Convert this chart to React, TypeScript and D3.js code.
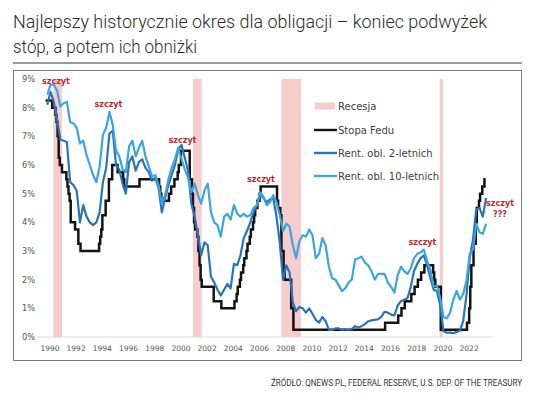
import React, { useEffect, useRef } from "react";
import * as d3 from "d3";

// tick labels
const xYears = d3.range(1990, 2024, 2);
const yPercents = d3.range(0, 10);

// quarterly averages, 1990 Q1 .. 2023 Q3
const rent2 = [
  8.1, 8.55, 8.2, 7.6, 6.9, 6.85, 6.8, 5.4, 5.3, 5.1, 4.0, 4.6, 4.2, 4.0, 3.9, 4.0,
  4.35, 5.4, 5.9, 7.1, 7.2, 6.0, 5.85, 5.35, 5.0, 6.1, 6.3, 5.8, 6.1, 6.2, 5.9, 5.75,
  5.45, 5.55, 5.2, 4.35, 4.85, 5.3, 5.65, 6.0, 6.55, 6.7, 6.25, 5.8, 4.65, 4.2, 3.55, 2.85,
  3.3, 3.2, 2.1, 1.9, 1.65, 1.45, 1.65, 1.85, 1.7, 2.55, 2.5, 2.85, 3.45, 3.7, 4.0, 4.35,
  4.6, 5.0, 4.85, 4.7, 4.8, 4.85, 4.2, 3.3, 2.0, 2.5, 2.25, 1.2, 0.9, 1.05, 1.0, 0.85,
  1.0, 0.8, 0.6, 0.5, 0.7, 0.55, 0.25, 0.25, 0.3, 0.3, 0.25, 0.27, 0.25, 0.28, 0.38, 0.32,
  0.38, 0.45, 0.55, 0.58, 0.6, 0.62, 0.7, 0.88, 0.85, 0.78, 0.75, 1.1, 1.25, 1.3, 1.35, 1.75,
  2.3, 2.55, 2.75, 2.85, 2.5, 2.05, 1.65, 1.6, 1.1, 0.2, 0.15, 0.15, 0.13, 0.18, 0.22, 0.55,
  1.45, 2.75, 3.4, 4.45, 4.5, 4.2, 4.85,
];

const rent10 = [
  8.45, 8.8, 8.8, 8.6, 8.05, 8.15, 8.2, 7.5, 7.45, 7.3, 6.75, 6.85, 6.35, 6.0, 5.65, 5.4,
  5.95, 7.05, 7.3, 7.85, 7.4, 6.5, 6.3, 5.85, 5.75, 6.65, 6.85, 6.3, 6.6, 6.85, 6.3, 5.95,
  5.6, 5.65, 5.3, 4.65, 4.95, 5.5, 5.9, 6.2, 6.6, 6.2, 5.85, 5.55, 5.05, 5.35, 4.95, 4.65,
  5.1, 5.35, 4.35, 4.0, 3.9, 3.5, 4.2, 4.3, 4.1, 4.6, 4.3, 4.2, 4.3, 4.2, 4.25, 4.5,
  4.6, 5.05, 4.9, 4.6, 4.7, 4.95, 4.7, 4.25, 3.7, 3.95, 3.85, 3.2, 2.75, 3.35, 3.55, 3.5,
  3.75, 3.55, 2.75, 2.9, 3.45, 3.2, 2.45, 2.05, 2.0, 1.8, 1.6, 1.7, 1.9, 2.0, 2.7, 2.75,
  2.8, 2.6, 2.5, 2.3, 2.0, 2.2, 2.2, 2.2, 1.9, 1.75, 1.55, 2.15, 2.45, 2.3, 2.2, 2.4,
  2.75, 2.9, 2.95, 3.05, 2.65, 2.35, 1.75, 1.8, 1.35, 0.7, 0.65, 0.85, 1.3, 1.6, 1.3, 1.5,
  1.95, 2.9, 3.05, 3.95, 3.65, 3.6, 3.95,
];

// fed funds target changes
const fedDates = [
  "1990-01", "1990-07", "1990-10", "1990-11", "1990-12", "1991-01", "1991-02", "1991-04",
  "1991-08", "1991-09", "1991-10", "1991-11", "1991-12", "1992-04", "1992-07", "1992-09",
  "1994-02", "1994-03", "1994-04", "1994-05", "1994-08", "1994-11", "1995-02", "1995-07",
  "1995-12", "1996-01", "1997-03", "1998-09", "1998-10", "1998-11", "1999-06", "1999-08",
  "1999-11", "2000-02", "2000-03", "2000-05", "2001-01", "2001-03", "2001-04", "2001-05",
  "2001-06", "2001-08", "2001-09", "2001-10", "2001-11", "2001-12", "2002-11", "2003-06",
  "2004-06", "2004-08", "2004-09", "2004-11", "2004-12", "2005-02", "2005-03", "2005-05",
  "2005-06", "2005-08", "2005-09", "2005-11", "2005-12", "2006-01", "2006-03", "2006-05",
  "2006-06", "2007-09", "2007-10", "2007-12", "2008-01", "2008-03", "2008-04", "2008-10",
  "2008-12", "2015-12", "2016-12", "2017-03", "2017-06", "2017-12", "2018-03", "2018-06",
  "2018-09", "2018-12", "2019-08", "2019-09", "2019-10", "2020-03", "2022-03", "2022-05",
  "2022-06", "2022-07", "2022-09", "2022-11", "2022-12", "2023-02", "2023-03", "2023-05",
  "2023-07", "2023-08",
];
const fedRates = [
  8.25, 8.0, 7.75, 7.5, 7.0, 6.25, 6.0, 5.75,
  5.5, 5.25, 5.0, 4.75, 4.0, 3.75, 3.25, 3.0,
  3.25, 3.5, 3.75, 4.25, 4.75, 5.5, 6.0, 5.75,
  5.5, 5.25, 5.5, 5.25, 5.0, 4.75, 5.0, 5.25,
  5.5, 5.75, 6.0, 6.5, 5.5, 5.0, 4.5, 4.0,
  3.75, 3.5, 3.0, 2.5, 2.0, 1.75, 1.25, 1.0,
  1.25, 1.5, 1.75, 2.0, 2.25, 2.5, 2.75, 3.0,
  3.25, 3.5, 3.75, 4.0, 4.25, 4.5, 4.75, 5.0,
  5.25, 4.75, 4.5, 4.25, 3.0, 2.25, 2.0, 1.0,
  0.25, 0.5, 0.75, 1.0, 1.25, 1.5, 1.75, 2.0,
  2.25, 2.5, 2.25, 2.0, 1.75, 0.25, 0.5, 1.0,
  1.75, 2.5, 3.25, 4.0, 4.5, 4.75, 5.0, 5.25,
  5.5, 5.5,
];

const recessionStart = ["1990-08", "2001-04", "2008-01", "2020-02"];
const recessionEnd = ["1991-03", "2001-11", "2009-06", "2020-04"];

// "szczyt" notes anchored in data units
const noteLabels = ["szczyt", "szczyt", "szczyt", "szczyt", "szczyt", "szczyt", "???"];
const noteYears = [1990.79, 1994.8, 2000.45, 2006.44, 2018.77, 2024.69, 2024.69];
const noteValues = [8.84, 8.02, 6.77, 5.41, 3.21, 4.57, 4.19];

const legendLabels = ["Recesja", "Stopa Fedu", "Rent. obl. 2-letnich", "Rent. obl. 10-letnich"];
const colors = { fed: "#141414", r2: "#2b73b9", r10: "#3aa6dd", rec: "#f6cccc" };

const ym = (s: string) => +s.slice(0, 4) + (+s.slice(5, 7) - 1) / 12;
const qt = (i: number) => 1990 + i / 4 + 0.125;

function Chart() {
  const ref = useRef<SVGSVGElement>(null);

  useEffect(() => {
    const svg = d3.select(ref.current);
    svg.selectAll("*").remove();

    const x = d3.scaleLinear().domain([1990, 2024]).range([45.6, 491]);
    const y = d3.scaleLinear().domain([0, 9]).range([337, 79]);

    // title
    const title = svg.append("g").attr("font-family", "Roboto, 'Open Sans', sans-serif")
      .attr("font-weight", 300).attr("font-size", 18).attr("fill", "#2b2b2b");
    title.append("text").attr("x", 13).attr("y", 28)
      .attr("textLength", 474).attr("lengthAdjust", "spacingAndGlyphs")
      .text("Najlepszy historycznie okres dla obligacji – koniec podwyżek");
    title.append("text").attr("x", 13).attr("y", 53)
      .attr("textLength", 184).attr("lengthAdjust", "spacingAndGlyphs")
      .text("stóp, a potem ich obniżki");

    svg.append("line").attr("x1", 13).attr("x2", 522).attr("y1", 63).attr("y2", 63)
      .attr("stroke", "#9b9b9b").attr("stroke-width", 2);
    svg.append("rect").attr("x", 13.5).attr("y", 70.5).attr("width", 508).attr("height", 290)
      .attr("fill", "#fff").attr("stroke", "#7a7a7a").attr("stroke-width", 1);

    // recession bands
    svg.append("g").selectAll("rect").data(recessionStart).join("rect")
      .attr("x", (d) => x(ym(d)))
      .attr("width", (d, i) => x(ym(recessionEnd[i]) + 1 / 12) - x(ym(d)))
      .attr("y", y(9)).attr("height", y(0) - y(9))
      .attr("fill", colors.rec);

    // axes
    svg.append("line").attr("x1", 38).attr("x2", 492).attr("y1", y(0)).attr("y2", y(0))
      .attr("stroke", "#d9d9d9").attr("stroke-width", 1);
    svg.append("g").selectAll("text").data(yPercents).join("text")
      .attr("x", 35).attr("y", (d) => y(d)).attr("dy", "0.35em")
      .attr("text-anchor", "end").attr("font-family", "'DejaVu Sans', sans-serif")
      .attr("font-size", 8.2).attr("fill", "#555")
      .text((d) => d + "%");
    svg.append("g").selectAll("text").data(xYears).join("text")
      .attr("x", (d) => x(d + 0.33)).attr("y", 350.5)
      .attr("text-anchor", "middle").attr("font-family", "'DejaVu Sans', sans-serif")
      .attr("font-size", 7.5).attr("fill", "#555")
      .text((d) => d);

    // series
    const fedLine = d3.line<number>()
      .x((d, i) => x(ym(fedDates[i])))
      .y((d) => y(d))
      .curve(d3.curveStepAfter);
    const qLine = d3.line<number>().x((d, i) => x(qt(i))).y((d) => y(d));

    svg.append("path").attr("d", fedLine(fedRates)).attr("fill", "none")
      .attr("stroke", colors.fed).attr("stroke-width", 2.5);
    svg.append("path").attr("d", qLine(rent2)).attr("fill", "none")
      .attr("stroke", colors.r2).attr("stroke-width", 2.2).attr("stroke-linejoin", "round");
    svg.append("path").attr("d", qLine(rent10)).attr("fill", "none")
      .attr("stroke", colors.r10).attr("stroke-width", 2.2).attr("stroke-linejoin", "round");

    // legend
    const lg = svg.append("g").attr("font-family", "'DejaVu Sans', sans-serif")
      .attr("font-size", 10).attr("fill", "#404040");
    const legendY = [106, 130, 153, 176];
    const legendColors = [colors.rec, colors.fed, colors.r2, colors.r10];
    legendLabels.forEach((label, i) => {
      if (i === 0) {
        lg.append("rect").attr("x", 315).attr("y", legendY[i] - 3.5).attr("width", 20).attr("height", 7)
          .attr("fill", legendColors[i]);
      } else {
        lg.append("line").attr("x1", 314).attr("x2", 337).attr("y1", legendY[i]).attr("y2", legendY[i])
          .attr("stroke", legendColors[i]).attr("stroke-width", 2.4);
      }
      lg.append("text").attr("x", 338).attr("y", legendY[i]).attr("dy", "0.35em").text(label);
    });

    // notes
    svg.append("g").selectAll("text").data(noteLabels).join("text")
      .attr("x", (d, i) => x(noteYears[i])).attr("y", (d, i) => y(noteValues[i]))
      .attr("text-anchor", "middle").attr("font-family", "'DejaVu Sans', sans-serif")
      .attr("font-weight", "bold").attr("font-size", 8).attr("fill", "#c0282d")
      .text((d) => d);

    // source
    svg.append("text").attr("x", 522).attr("y", 386).attr("text-anchor", "end")
      .attr("font-family", "Roboto, sans-serif").attr("font-size", 8.5).attr("fill", "#333")
      .attr("textLength", 251).attr("lengthAdjust", "spacingAndGlyphs")
      .text("ŹRÓDŁO: QNEWS.PL, FEDERAL RESERVE, U.S. DEP. OF THE TREASURY");
  }, []);

  return (
    <svg ref={ref} width={536} height={395}
      style={{ position: "absolute", left: 0, top: 0, background: "#fff" }} />
  );
}

export default function App() {
  return <Chart />;
}
